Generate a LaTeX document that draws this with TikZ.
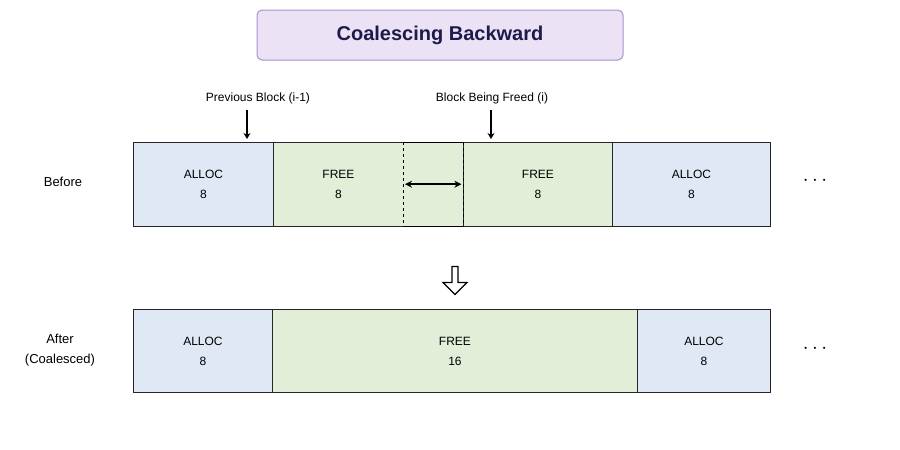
\documentclass[tikz,border=0pt]{standalone}
\usepackage{fontspec}
\setmainfont{Liberation Sans}
\usetikzlibrary{arrows.meta,shapes.arrows}
\definecolor{allocc}{HTML}{E1E8F5}
\definecolor{freec}{HTML}{E3EED9}
\definecolor{titlec}{HTML}{EBE2F6}
\definecolor{titleb}{HTML}{A992CC}
\definecolor{navy}{HTML}{1E1B4B}
\begin{document}
\begin{tikzpicture}[x=1pt,y=-1pt,
  blk/.style={draw=black!85,line width=0.9pt,anchor=north west,inner sep=0pt,align=center,font=\fontsize{12}{20}\selectfont},
  alloc/.style={blk,fill=allocc},
  free/.style={blk,fill=freec},
  lbl/.style={font=\fontsize{12}{15}\selectfont},
  ptr/.style={-{Stealth[length=6pt,width=7pt]},line width=1.5pt}]
\useasboundingbox (0,0) rectangle (900,450);
\node[draw=titleb,fill=titlec,rounded corners=5pt,line width=1pt,minimum width=366pt,minimum height=50pt,font=\bfseries\fontsize{20}{24}\selectfont,text=navy] (title) at (440,35) {Coalescing Backward};
% before
\node[alloc,minimum width=140pt,minimum height=84pt] (a1) at (133,142) {ALLOC\\8};
\node[free,minimum width=130pt,minimum height=84pt] (f1) at (273,142) {FREE\\8};
\node[fill=freec,anchor=north west,minimum width=60pt,minimum height=84pt,inner sep=0pt] (gap) at (403,142) {};
\node[free,minimum width=149pt,minimum height=84pt] (f2) at (463,142) {FREE\\8};
\node[alloc,minimum width=158pt,minimum height=84pt] (a2) at (612,142) {ALLOC\\8};
\draw[line width=0.9pt] (gap.north west) -- (gap.north east) (gap.south west) -- (gap.south east);
\draw[dashed,line width=0.9pt] (gap.north west) -- (gap.south west) (gap.north east) -- (gap.south east);
\draw[{Stealth[length=7pt,width=7pt]}-{Stealth[length=7pt,width=7pt]},line width=1.5pt] ([xshift=2pt]gap.west) -- ([xshift=-2pt]gap.east);
\node[lbl] (pl) at (258,98) {Previous Block (i-1)};
\node[lbl] (bl) at (492,98) {Block Being Freed (i)};
\draw[ptr] (247,110) -- (247,139);
\draw[ptr] (491,110) -- (491,139);
\node[lbl,font=\fontsize{13}{16}\selectfont] (bef) at (63,182) {Before};
\node[font=\bfseries\fontsize{20}{20}\selectfont] (d1) at (815,181) {$\cdots$};
% arrow
\node[single arrow,draw,line width=1.2pt,shape border rotate=270,minimum height=28pt,minimum width=24pt,single arrow head extend=5pt,inner sep=1pt] (down) at (455,279) {};
% after
\node[alloc,minimum width=139pt,minimum height=83pt] (a3) at (133,309) {ALLOC\\8};
\node[free,minimum width=365pt,minimum height=83pt] (f3) at (272,309) {FREE\\16};
\node[alloc,minimum width=133pt,minimum height=83pt] (a4) at (637,309) {ALLOC\\8};
\node[lbl,align=center,font=\fontsize{13}{20}\selectfont] (aft) at (60,350) {After\\(Coalesced)};
\node[font=\bfseries\fontsize{20}{20}\selectfont] (d2) at (815,349) {$\cdots$};
\end{tikzpicture}
\end{document}
